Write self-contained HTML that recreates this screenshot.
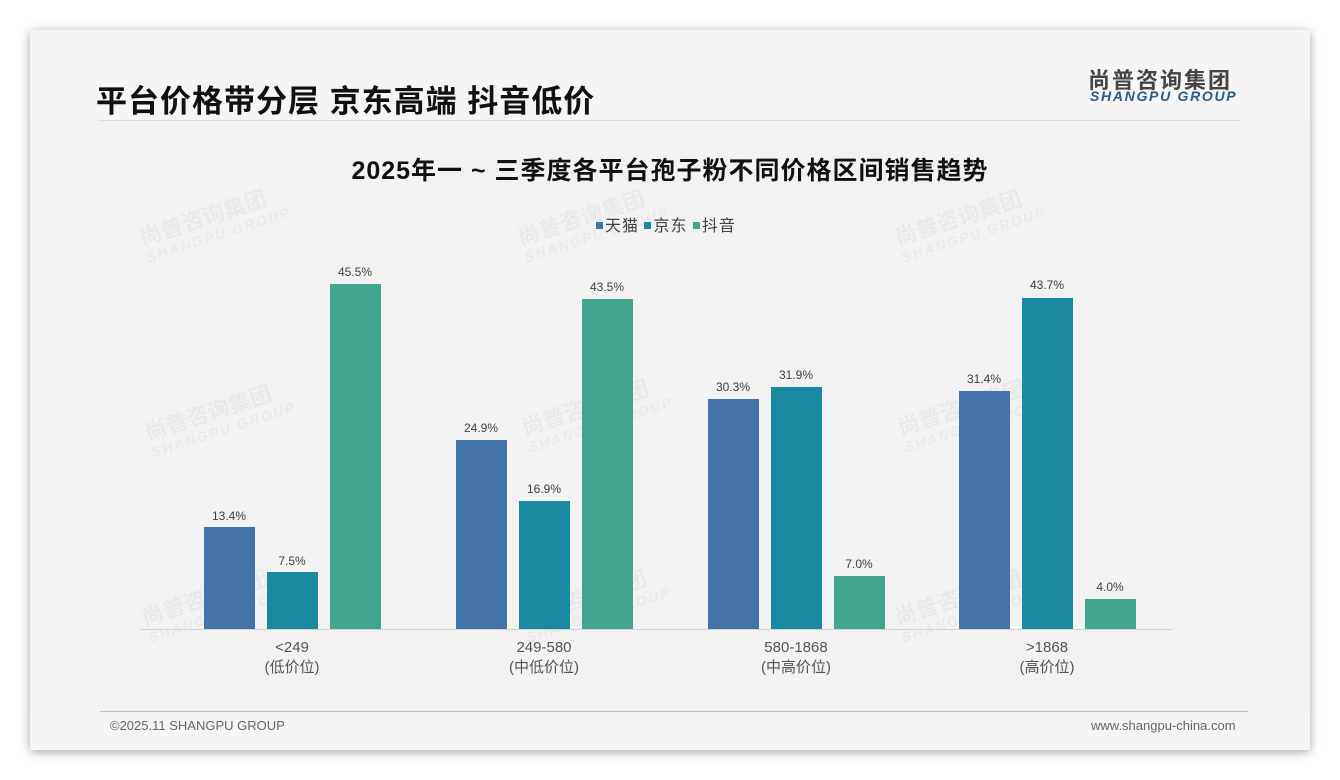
<!DOCTYPE html>
<html><head><meta charset="utf-8"><style>
body{margin:0;width:1340px;height:780px;background:#fff;position:relative;overflow:hidden;font-family:"Liberation Sans","Noto Sans CJK SC",sans-serif}
.card{position:absolute;left:30px;top:30px;width:1280px;height:720px;background:#f5f5f5;box-shadow:0 2px 10px rgba(0,0,0,.35)}
.chartbg{position:absolute;left:30px;top:120px;width:1280px;height:592px;background:#f2f2f2}
.t{position:absolute;white-space:nowrap}
.bar{position:absolute;width:51px}
.a{background:#4373a8}.b{background:#1a8aa0}.c{background:#41a590}
.v{position:absolute;width:60px;text-align:center;font-size:12px;color:#404040}
.x{position:absolute;width:160px;text-align:center;font-size:15px;color:#555;line-height:20px}
.wm{position:absolute;color:rgba(0,0,0,.04);font-weight:bold;transform:rotate(-18deg);font-size:22px;line-height:20px;white-space:nowrap}
.wm span{display:block;font-size:14px;letter-spacing:2px;font-style:italic}
.lg{display:inline-block;width:7px;height:7px;margin-right:2px;vertical-align:2px}
</style></head><body>
<div class="card"></div>
<div class="chartbg"></div>
<div class="t" style="left:96px;top:76px;font-size:31px;letter-spacing:1px;font-weight:bold;color:#111">平台价格带分层 京东高端 抖音低价</div>
<div style="position:absolute;left:98px;top:120px;width:1142px;height:1px;background:#ddd"></div>
<div class="t" style="left:1088px;top:63px;font-size:22px;letter-spacing:2px;font-weight:bold;color:#444">尚普咨询集团</div>
<div class="t" style="left:1090px;top:88px;font-size:14px;font-weight:bold;font-style:italic;color:#2a5a88;letter-spacing:1.7px">SHANGPU GROUP</div>
<div class="t" style="left:0;width:1340px;text-align:center;top:151px;font-size:25px;letter-spacing:1px;font-weight:bold;color:#111">2025年一 ~ 三季度各平台孢子粉不同价格区间销售趋势</div>
<div class="t" style="left:596px;top:212px;font-size:16px;letter-spacing:1px;color:#444"><span class="lg" style="background:#4373a8"></span>天猫 <span class="lg" style="background:#1a8aa0"></span>京东 <span class="lg" style="background:#41a590"></span>抖音</div>
<div class="wm" style="left:140px;top:205px">尚普咨询集团<span>SHANGPU GROUP</span></div>
<div class="wm" style="left:518px;top:205px">尚普咨询集团<span>SHANGPU GROUP</span></div>
<div class="wm" style="left:895px;top:205px">尚普咨询集团<span>SHANGPU GROUP</span></div>
<div class="wm" style="left:145px;top:400px">尚普咨询集团<span>SHANGPU GROUP</span></div>
<div class="wm" style="left:522px;top:395px">尚普咨询集团<span>SHANGPU GROUP</span></div>
<div class="wm" style="left:898px;top:395px">尚普咨询集团<span>SHANGPU GROUP</span></div>
<div class="wm" style="left:142px;top:585px">尚普咨询集团<span>SHANGPU GROUP</span></div>
<div class="wm" style="left:520px;top:585px">尚普咨询集团<span>SHANGPU GROUP</span></div>
<div class="wm" style="left:895px;top:585px">尚普咨询集团<span>SHANGPU GROUP</span></div>
<div style="position:absolute;left:140px;top:629px;width:1033px;height:1px;background:#cfd4da"></div>
<div class="bar a" style="left:204px;top:527px;height:102px"></div><div class="v" style="left:199px;top:509px">13.4%</div>
<div class="bar b" style="left:267px;top:572px;height:57px"></div><div class="v" style="left:262px;top:554px">7.5%</div>
<div class="bar c" style="left:330px;top:284px;height:345px"></div><div class="v" style="left:325px;top:265px">45.5%</div>
<div class="bar a" style="left:456px;top:440px;height:189px"></div><div class="v" style="left:451px;top:421px">24.9%</div>
<div class="bar b" style="left:519px;top:501px;height:128px"></div><div class="v" style="left:514px;top:482px">16.9%</div>
<div class="bar c" style="left:582px;top:299px;height:330px"></div><div class="v" style="left:577px;top:280px">43.5%</div>
<div class="bar a" style="left:708px;top:399px;height:230px"></div><div class="v" style="left:703px;top:380px">30.3%</div>
<div class="bar b" style="left:771px;top:387px;height:242px"></div><div class="v" style="left:766px;top:368px">31.9%</div>
<div class="bar c" style="left:834px;top:576px;height:53px"></div><div class="v" style="left:829px;top:557px">7.0%</div>
<div class="bar a" style="left:959px;top:391px;height:238px"></div><div class="v" style="left:954px;top:372px">31.4%</div>
<div class="bar b" style="left:1022px;top:298px;height:331px"></div><div class="v" style="left:1017px;top:278px">43.7%</div>
<div class="bar c" style="left:1085px;top:599px;height:30px"></div><div class="v" style="left:1080px;top:580px">4.0%</div>
<div class="x" style="left:212px;top:638px">&lt;249<br>(低价位)</div>
<div class="x" style="left:464px;top:638px">249-580<br>(中低价位)</div>
<div class="x" style="left:716px;top:638px">580-1868<br>(中高价位)</div>
<div class="x" style="left:967px;top:638px">&gt;1868<br>(高价位)</div>
<div style="position:absolute;left:100px;top:711px;width:1148px;height:1px;background:#b0c4d8"></div>
<div class="t" style="left:110px;top:718px;font-size:13px;color:#666">©2025.11 SHANGPU GROUP</div>
<div class="t" style="left:1091px;top:718px;font-size:13px;color:#666">www.shangpu-china.com</div>
</body></html>
